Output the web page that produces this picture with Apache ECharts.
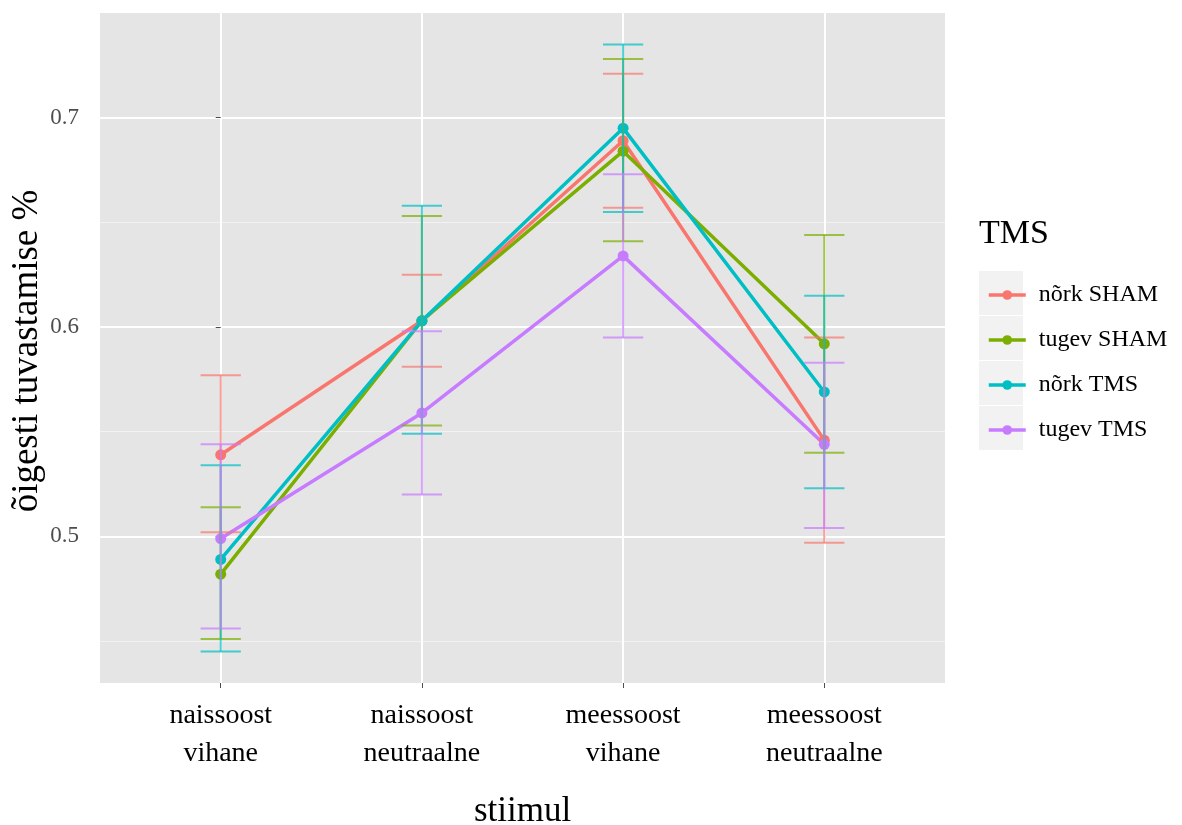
<!DOCTYPE html>
<html>
<head>
<meta charset="utf-8">
<script src="https://cdn.jsdelivr.net/npm/echarts@6/dist/echarts.min.js"></script>
<style>html,body{margin:0;padding:0;background:#fff;}#c{width:1182px;height:825px;}</style>
</head>
<body>
<div id="c"></div>
<script>
const categories = ['naissoost\nvihane', 'naissoost\nneutraalne', 'meessoost\nvihane', 'meessoost\nneutraalne'];
const groupNames = ['nõrk SHAM', 'tugev SHAM', 'nõrk TMS', 'tugev TMS'];
const groupColors = ['#F8766D', '#7CAE00', '#00BFC4', '#C77CFF'];
const yTicks = [0.5, 0.6, 0.7];
const yMinorTicks = [0.45, 0.55, 0.65];
const yTitle = 'õigesti tuvastamise %';
const xTitle = 'stiimul';
const legendTitle = 'TMS';

const meanNorkSham  = [0.539, 0.603, 0.689, 0.546];
const lowerNorkSham = [0.502, 0.581, 0.657, 0.497];
const upperNorkSham = [0.577, 0.625, 0.721, 0.595];

const meanTugevSham  = [0.482, 0.603, 0.684, 0.592];
const lowerTugevSham = [0.451, 0.553, 0.641, 0.540];
const upperTugevSham = [0.514, 0.653, 0.728, 0.644];

const meanNorkTms  = [0.489, 0.603, 0.695, 0.569];
const lowerNorkTms = [0.445, 0.549, 0.655, 0.523];
const upperNorkTms = [0.534, 0.658, 0.735, 0.615];

const meanTugevTms  = [0.499, 0.559, 0.634, 0.544];
const lowerTugevTms = [0.456, 0.520, 0.595, 0.504];
const upperTugevTms = [0.544, 0.598, 0.673, 0.583];

const means = [meanNorkSham, meanTugevSham, meanNorkTms, meanTugevTms];
const lowers = [lowerNorkSham, lowerTugevSham, lowerNorkTms, lowerTugevTms];
const uppers = [upperNorkSham, upperTugevSham, upperNorkTms, upperTugevTms];

const FONT = '"Liberation Serif", "DejaVu Serif", serif';
const chart = echarts.init(document.getElementById('c'));

const catIdx = categories.map((c, i) => i);
const series = [];
groupNames.forEach((name, g) => {
  series.push({
    name: name,
    type: 'line',
    data: catIdx.map(i => [i, means[g][i]]),
    symbol: 'circle',
    symbolSize: 11,
    itemStyle: {color: groupColors[g]},
    lineStyle: {color: groupColors[g], width: 3.5},
    z: 2,
    silent: true,
    animation: false
  });
});
groupNames.forEach((name, g) => {
  series.push({
    name: name,
    type: 'custom',
    data: catIdx.map(i => [i, lowers[g][i], uppers[g][i]]),
    encode: {x: 0, y: [1, 2]},
    z: 3,
    silent: true,
    animation: false,
    renderItem: function (params, api) {
      const x = api.value(0);
      const lo = api.coord([x, api.value(1)]);
      const hi = api.coord([x, api.value(2)]);
      const capL = api.coord([x - 0.1, api.value(1)])[0];
      const capR = api.coord([x + 0.1, api.value(1)])[0];
      const style = {stroke: groupColors[g], lineWidth: 2, opacity: 0.7};
      return {
        type: 'group',
        children: [
          {type: 'line', shape: {x1: lo[0], y1: lo[1], x2: hi[0], y2: hi[1]}, style: style},
          {type: 'line', shape: {x1: capL, y1: lo[1], x2: capR, y2: lo[1]}, style: style},
          {type: 'line', shape: {x1: capL, y1: hi[1], x2: capR, y2: hi[1]}, style: style}
        ]
      };
    }
  });
});

const keyBoxes = [0, 1, 2, 3].map(k => ({
  type: 'rect',
  left: 979,
  top: 271 + k * 45,
  z: -1,
  shape: {width: 44, height: 44},
  style: {fill: '#f2f2f2'},
  silent: true
}));

const option = {
  backgroundColor: '#ffffff',
  animation: false,
  title: {
    text: legendTitle,
    left: 974,
    top: 212,
    textStyle: {fontFamily: FONT, fontSize: 34, fontWeight: 'normal', color: '#000'}
  },
  legend: {
    data: groupNames,
    orient: 'vertical',
    left: 982,
    top: 278,
    itemWidth: 37,
    itemHeight: 12,
    itemGap: 21,
    selectedMode: false,
    lineStyle: {width: 3.5},
    textStyle: {fontFamily: FONT, fontSize: 24, color: '#000', lineHeight: 24, padding: [0, 0, 0, 8]}
  },
  graphic: keyBoxes.concat([{
    type: 'text',
    x: 27,
    y: 351,
    rotation: Math.PI / 2,
    silent: true,
    style: {
      text: yTitle,
      fontFamily: FONT, fontSize: 37, fill: '#000',
      textAlign: 'center', textVerticalAlign: 'middle'
    }
  }]),
  grid: {
    left: 100, right: 237, top: 13, bottom: 142,
    outerBoundsMode: 'none',
    containLabel: false,
    show: true, backgroundColor: '#e5e5e5', borderWidth: 0
  },
  xAxis: {
    type: 'value',
    min: -0.6, max: 3.6,
    name: xTitle,
    nameLocation: 'middle',
    nameGap: 111,
    nameTextStyle: {fontFamily: FONT, fontSize: 35, color: '#000'},
    axisLine: {show: false},
    axisTick: {show: true, length: 5, customValues: catIdx, lineStyle: {color: '#4d4d4d', width: 1}},
    axisLabel: {
      customValues: catIdx,
      formatter: v => categories[Math.round(v)],
      fontFamily: FONT, fontSize: 28, color: '#000', lineHeight: 38, margin: 14
    },
    splitLine: {show: true, lineStyle: {color: '#ffffff', width: 2}}
  },
  yAxis: [{
    type: 'value',
    min: 0.43, max: 0.75,
    axisLine: {show: false},
    axisTick: {show: true, length: 5, customValues: yTicks, lineStyle: {color: '#4d4d4d', width: 1}},
    axisLabel: {
      customValues: yTicks,
      formatter: v => v.toFixed(1),
      fontFamily: FONT, fontSize: 23, color: '#4d4d4d', margin: 21
    },
    splitLine: {show: true, lineStyle: {color: '#ffffff', width: 2}},
    z: 1
  }, {
    type: 'value',
    min: 0.43, max: 0.75,
    position: 'left',
    axisLine: {show: false},
    axisTick: {show: false, customValues: yMinorTicks},
    axisLabel: {show: false, customValues: yMinorTicks},
    splitLine: {show: true, lineStyle: {color: '#f2f2f2', width: 1}}
  }],
  series: series
};
chart.setOption(option);
</script>
</body>
</html>
